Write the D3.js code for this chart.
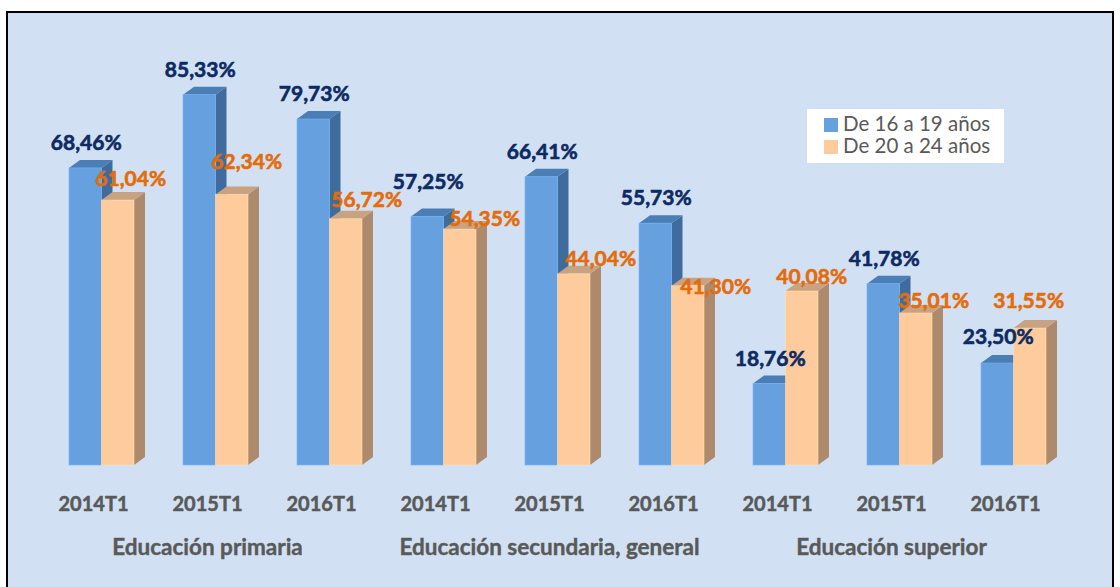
<!DOCTYPE html>
<html>
<head>
<meta charset="utf-8">
<script src="https://cdn.jsdelivr.net/npm/d3@7"></script>
<style>
  html, body { margin: 0; padding: 0; background: #ffffff; }
  svg { display: block; font-family: Lato, "Open Sans", sans-serif; }
</style>
</head>
<body>
<svg id="chart" width="1120" height="587"></svg>
<script>
const width = 1120, height = 587;

// data
const periods = ["2014T1", "2015T1", "2016T1"];
const levels = ["Educación primaria", "Educación secundaria, general", "Educación superior"];
const seriesNames = ["De 16 a 19 años", "De 20 a 24 años"];
const age16to19 = [68.46, 85.33, 79.73, 57.25, 66.41, 55.73, 18.76, 41.78, 23.50];
const age20to24 = [61.04, 62.34, 56.72, 54.35, 44.04, 41.30, 40.08, 35.01, 31.55];

// hand-placed label nudges (Excel moved some labels by hand)
const nudgeBlue = [[0, 0], [0, 0], [0, 0], [0, -10], [0, 0], [0, 0], [0, 0], [0, 0], [0, -1]];
const nudgeOrange = [[13, -14], [15, -25], [21, -12], [25, -3], [27, -8], [28, 8], [10, -7], [18, -5], [-1, -20]];

const colors = {
    blue: { front: "#67a0de", top: "#4a7eb5", side: "#3f6c9c", label: "#0e2a62" },
    orange: { front: "#fecb9d", top: "#c9a282", side: "#ad8a6c", label: "#e46c0a" }
};

const depth = { dx: 11, dy: -8 };
const fmt = d3.formatLocale({ decimal: ",", thousands: ".", grouping: [3], currency: ["", ""] }).format(".2f");

const cats = d3.range(levels.length * periods.length);
const rows = cats.map(i => ({
    i: i,
    period: periods[i % periods.length],
    level: levels[Math.floor(i / periods.length)],
    a: age16to19[i],
    b: age20to24[i]
}));

const svg = d3.select("#chart");

svg.append("rect")
    .attr("x", 7).attr("y", 12)
    .attr("width", 1106).attr("height", 590)
    .attr("fill", "#d1e1f3")
    .attr("stroke", "#000")
    .attr("stroke-width", 2);

const x = d3.scaleBand()
    .domain(cats)
    .range([44.5, 1070.5])
    .paddingInner(0.43)
    .paddingOuter(0.215);

const bw = x.bandwidth() / 2;

const y = d3.scaleLinear()
    .domain([0, 100])
    .range([465, 31]);

function drawBar(g, x0, v, c) {
    const x1 = x0 + bw, y0 = y(0), y1 = y(v);
    const { dx, dy } = depth;
    g.append("path")
        .attr("d", `M${x1},${y1}L${x1 + dx},${y1 + dy}L${x1 + dx},${y0 + dy}L${x1},${y0}Z`)
        .attr("fill", c.side);
    g.append("path")
        .attr("d", `M${x0},${y1}L${x0 + dx},${y1 + dy}L${x1 + dx},${y1 + dy}L${x1},${y1}Z`)
        .attr("fill", c.top);
    g.append("rect")
        .attr("x", x0).attr("y", y1)
        .attr("width", bw).attr("height", y0 - y1)
        .attr("fill", c.front)
        .attr("stroke", d3.color(c.front).brighter(0.3))
        .attr("stroke-width", 0.6);
}

const bars = svg.append("g");
rows.forEach(d => {
    const g = bars.append("g");
    drawBar(g, x(d.i), d.a, colors.blue);
    drawBar(g, x(d.i) + bw, d.b, colors.orange);
});

const labels = svg.append("g")
    .attr("font-weight", "bold")
    .attr("font-size", 21)
    .attr("text-anchor", "middle")
    .attr("stroke-width", 0.6);

labels.selectAll("text.blue")
    .data(rows)
    .join("text")
    .attr("class", "blue")
    .attr("x", d => x(d.i) + bw / 2 + 1 + nudgeBlue[d.i][0])
    .attr("y", d => y(d.a) - 18 + nudgeBlue[d.i][1])
    .attr("fill", colors.blue.label)
    .attr("stroke", colors.blue.label)
    .text(d => fmt(d.a) + "%");

labels.selectAll("text.orange")
    .data(rows)
    .join("text")
    .attr("class", "orange")
    .attr("x", d => x(d.i) + bw * 1.5 + nudgeOrange[d.i][0])
    .attr("y", d => y(d.b) + nudgeOrange[d.i][1])
    .attr("fill", colors.orange.label)
    .attr("stroke", colors.orange.label)
    .text(d => fmt(d.b) + "%");

// period tick labels
const xAxis = d3.axisBottom(x)
    .tickSize(0)
    .tickPadding(0)
    .tickFormat(i => rows[i].period);

const axisG = svg.append("g")
    .attr("transform", `translate(-8,${y(0)})`)
    .call(xAxis);
axisG.select(".domain").remove();
axisG.selectAll("text")
    .attr("dy", null)
    .attr("y", 46)
    .attr("font-family", "Lato, sans-serif")
    .attr("font-size", 20)
    .attr("font-weight", "bold")
    .attr("fill", "#595959")
    .attr("stroke", "#595959")
    .attr("stroke-width", 0.5);

// level labels, centred under the middle period of each group
svg.append("g")
    .selectAll("text")
    .data(levels)
    .join("text")
    .attr("x", (d, k) => x(k * periods.length + 1) + x.bandwidth() / 2 - 8)
    .attr("y", 555)
    .attr("text-anchor", "middle")
    .attr("font-size", 22.5)
    .attr("font-weight", "bold")
    .attr("fill", "#595959")
    .attr("stroke", "#595959")
    .attr("stroke-width", 0.4)
    .text(d => d);

// legend
const legend = svg.append("g").attr("transform", "translate(807,109)");
legend.append("rect")
    .attr("width", 197).attr("height", 54)
    .attr("fill", "#ffffff");
const legendItems = legend.selectAll("g")
    .data(seriesNames)
    .join("g")
    .attr("transform", (d, k) => `translate(17,${6 + k * 22})`);
legendItems.append("rect")
    .attr("width", 14).attr("height", 14)
    .attr("y", 3)
    .attr("fill", (d, k) => k === 0 ? colors.blue.front : colors.orange.front);
legendItems.append("text")
    .attr("x", 19)
    .attr("y", 16)
    .attr("font-size", 20.5)
    .attr("fill", "#595959")
    .text(d => d);
</script>
</body>
</html>
